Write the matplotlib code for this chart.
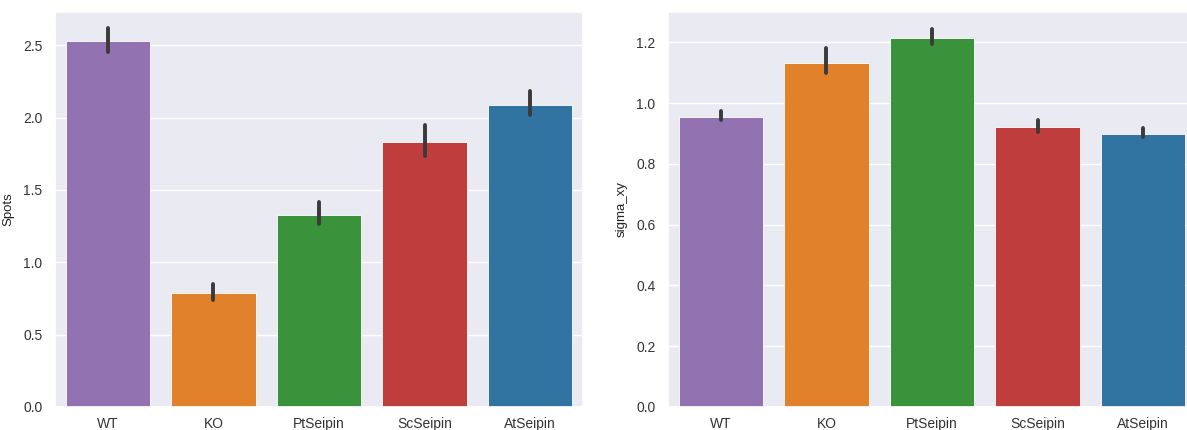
import numpy as np
import matplotlib
matplotlib.use("Agg")
import matplotlib.pyplot as plt
import seaborn as sns

# groups shown on both panels
groups = ["WT", "KO", "PtSeipin", "ScSeipin", "AtSeipin"]
base_colors = ["tab:purple", "tab:orange", "tab:green", "tab:red", "tab:blue"]

# left panel: mean spots with CI limits
spots_mean = [2.53, 0.79, 1.33, 1.83, 2.09]
spots_lo = [2.455, 0.737, 1.265, 1.735, 2.018]
spots_hi = [2.62, 0.853, 1.415, 1.947, 2.184]

# right panel: mean sigma_xy with CI limits
sigma_mean = [0.955, 1.133, 1.216, 0.921, 0.898]
sigma_lo = [0.944, 1.100, 1.194, 0.906, 0.888]
sigma_hi = [0.974, 1.183, 1.245, 0.943, 0.919]

sns.set_theme(style="darkgrid")
plt.rcParams["font.family"] = ["Liberation Sans", "DejaVu Sans"]

colors = [sns.desaturate(c, 0.75) for c in base_colors]

fig = plt.figure(figsize=(11.87, 4.30), dpi=100)
W, H = 1187.0, 430.0
ax1 = fig.add_axes([55 / W, 23 / H, 528 / W, 395 / H])
ax2 = fig.add_axes([668 / W, 23 / H, 528 / W, 395 / H])


def draw_panel(ax, mean, lo, hi, ylabel, ylim, yticks):
    x = np.arange(len(groups))
    ax.bar(x, mean, width=0.8, color=colors, edgecolor="white", linewidth=0.6, zorder=2)
    ax.vlines(x, lo, hi, color="#3a3a3a", linewidth=2.8, zorder=3, capstyle="round")
    ax.set_xlim(-0.5, len(groups) - 0.5)
    ax.set_ylim(*ylim)
    ax.set_yticks(yticks)
    ax.set_xticks(x)
    ax.set_xticklabels(groups)
    ax.xaxis.grid(False)
    ax.tick_params(axis="y", labelsize=10, colors="#333333", pad=3)
    ax.tick_params(axis="x", labelsize=10, colors="#333333", pad=1)
    ax.set_ylabel(ylabel, fontsize=9.5, color="#222222", labelpad=6)


draw_panel(ax1, spots_mean, spots_lo, spots_hi, "Spots", (0, 2.73),
           [0.0, 0.5, 1.0, 1.5, 2.0, 2.5])
draw_panel(ax2, sigma_mean, sigma_lo, sigma_hi, "sigma_xy", (0, 1.30),
           [0.0, 0.2, 0.4, 0.6, 0.8, 1.0, 1.2])

fig.savefig("out.png", dpi=100)
